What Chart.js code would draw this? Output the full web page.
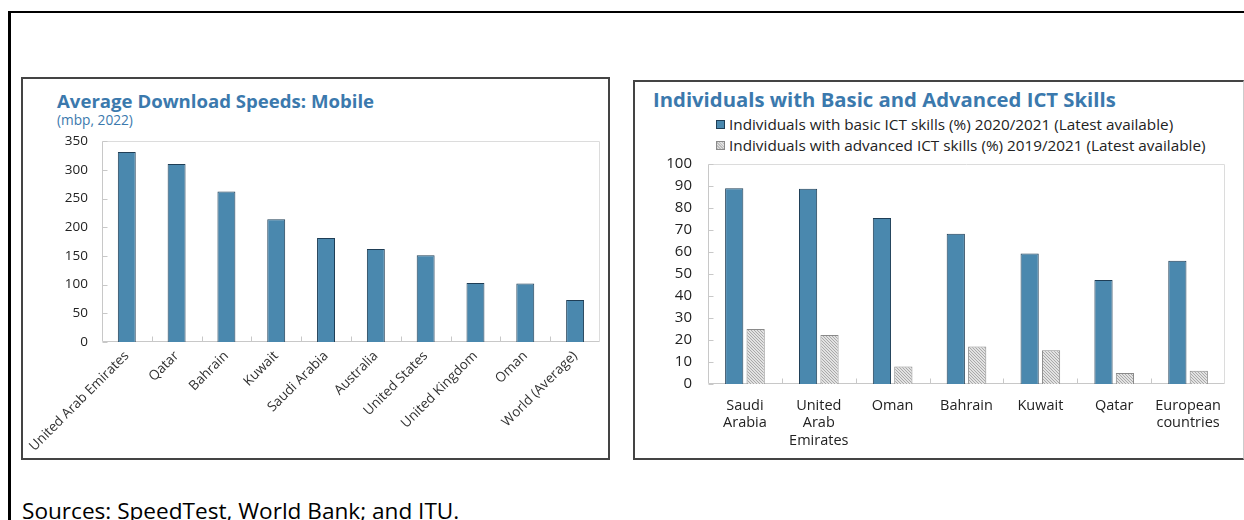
<!DOCTYPE html>
<html>
<head>
<meta charset="utf-8">
<script src="https://cdn.jsdelivr.net/npm/chart.js@4.4.0/dist/chart.umd.min.js"></script>
<style>
  html, body { margin: 0; padding: 0; background: #fff; width: 1244px; height: 520px; overflow: hidden;
    font-family: 'Open Sans', 'Noto Sans', sans-serif; }
  .frame { position: absolute; left: 8px; top: 11px; width: 1300px; height: 600px;
    border-top: 2px solid #000; border-left: 3px solid #000; box-sizing: border-box; }
  .panel { position: absolute; box-sizing: border-box; background: #fff; }
  #panelL { left: 21px; top: 77px; width: 589px; height: 383px; border: 2px solid #444; }
  #panelR { left: 633px; top: 80px; width: 611px; height: 380px; border: 2px solid #444; border-right: 1px solid #ccc; }
  .title { position: absolute; font-weight: 700; color: #3b79ad; line-height: 24px; white-space: nowrap; }
  .sub { position: absolute; color: #3b79ad; font-size: 13.7px; line-height: 16px; white-space: nowrap; }
  canvas { position: absolute; }
  .legend { position: absolute; left: 716px; top: 114px; font-size: 15.3px; color: #222; line-height: 21px; white-space: nowrap; }
  .legend div { display: flex; align-items: center; }
  .legend span.sw { display: inline-block; width: 9px; height: 9px; margin-right: 4px; box-sizing: border-box; }
  .footer { position: absolute; left: 22px; top: 497px; font-size: 22.6px; line-height: 28px; color: #000; white-space: nowrap; }
</style>
</head>
<body>
<div class="frame"></div>
<div class="panel" id="panelL"></div>
<div class="panel" id="panelR"></div>

<div class="title" style="left:57px; top:89px; font-size:18.6px;">Average Download Speeds: Mobile</div>
<div class="sub" style="left:57px; top:112px;">(mbp, 2022)</div>
<div class="title" style="left:653px; top:87px; font-size:20.3px;">Individuals with Basic and Advanced ICT Skills</div>
<div class="legend" id="legendR"></div>

<canvas id="speedChart" width="586" height="338" style="left:22px; top:119px;"></canvas>
<canvas id="skillsChart" width="606" height="318" style="left:635px; top:139px;"></canvas>

<div class="footer">Sources: SpeedTest, World Bank; and ITU.</div>

<script>
// Mobile download speeds (mbp, 2022)
const speedCountries = ['United Arab Emirates', 'Qatar', 'Bahrain', 'Kuwait', 'Saudi Arabia',
  'Australia', 'United States', 'United Kingdom', 'Oman', 'World (Average)'];
const speedValues = [331, 310, 262, 214, 181, 162, 151, 103, 102, 73];
const speedAxis = { min: 0, max: 350, step: 50 };

// ICT skills (% of individuals)
const skillCountries = [['Saudi', 'Arabia'], ['United', 'Arab', 'Emirates'], ['Oman'], ['Bahrain'],
  ['Kuwait'], ['Qatar'], ['European', 'countries']];
const basicLabel = 'Individuals with basic ICT skills (%) 2020/2021 (Latest available)';
const advancedLabel = 'Individuals with advanced ICT skills (%) 2019/2021 (Latest available)';
const basicSkills = [89, 88.7, 75.5, 68.3, 59.3, 47.3, 56];
const advancedSkills = [25, 22.3, 8, 17, 15.3, 5, 6];
const skillsAxis = { min: 0, max: 100, step: 10 };

const BLUE = '#4a88ae';
const BLUE_EDGE = '#1f3e56';
const GREY_EDGE = '#8a8a8a';

Chart.defaults.font.family = "'Open Sans', 'Noto Sans', sans-serif";
Chart.defaults.color = '#222';

// stippled light-grey fill for the advanced-skills bars
function stipple() {
  const c = document.createElement('canvas');
  c.width = 3; c.height = 3;
  const g = c.getContext('2d');
  g.fillStyle = '#e2e2e2'; g.fillRect(0, 0, 3, 3);
  g.fillStyle = '#a9a9a9';
  g.fillRect(0, 0, 1, 1); g.fillRect(1, 1, 1, 1); g.fillRect(2, 2, 1, 1);
  return g.createPattern(c, 'repeat');
}
const GREY_FILL = stipple();

// light frame around the plot area with short inward tick marks
const plotFrame = {
  id: 'plotFrame',
  beforeDatasetsDraw(chart) {
    const { ctx, chartArea: a, scales: { x, y } } = chart;
    const L = Math.round(a.left) + 0.5, R = Math.round(a.right) - 0.5;
    const T = Math.round(a.top) + 0.5, B = Math.round(a.bottom) - 0.5;
    ctx.save();
    ctx.lineWidth = 1;
    ctx.strokeStyle = '#dcdcdc';
    ctx.beginPath();
    ctx.moveTo(L, T); ctx.lineTo(R, T); ctx.lineTo(R, B);
    ctx.stroke();
    ctx.strokeStyle = '#c8c8c8';
    ctx.beginPath();
    ctx.moveTo(L, T); ctx.lineTo(L, B); ctx.lineTo(R, B);
    y.ticks.forEach((t, i) => {
      const py = Math.round(y.getPixelForTick(i)) + 0.5;
      ctx.moveTo(L, py); ctx.lineTo(L + 5, py);
    });
    for (let i = 1; i < x.ticks.length; i++) {
      const px = Math.round((x.getPixelForTick(i - 1) + x.getPixelForTick(i)) / 2) + 0.5;
      ctx.moveTo(px, B); ctx.lineTo(px, B - 5);
    }
    ctx.stroke();
    ctx.restore();
  }
};

function fixedSize(w) { return s => { s.width = w; }; }
function fixedHeight(h) { return s => { s.height = h; }; }

new Chart(document.getElementById('speedChart'), {
  type: 'bar',
  data: {
    labels: speedCountries,
    datasets: [{
      data: speedValues,
      backgroundColor: BLUE,
      borderColor: BLUE_EDGE,
      borderWidth: 1,
      categoryPercentage: 0.36,
      barPercentage: 1
    }]
  },
  options: {
    responsive: false,
    animation: false,
    layout: { padding: { top: 7, right: 8, left: 0, bottom: 0 } },
    plugins: { legend: { display: false }, tooltip: { enabled: false } },
    scales: {
      x: {
        grid: { display: false, drawTicks: false },
        border: { display: false },
        afterFit: fixedHeight(115),
        ticks: { minRotation: 45, maxRotation: 45, autoSkip: false, padding: 6,
          font: { size: 13.5 }, color: '#333' }
      },
      y: {
        min: speedAxis.min, max: speedAxis.max,
        grid: { display: false, drawTicks: false },
        border: { display: false },
        afterFit: fixedSize(77),
        ticks: { stepSize: speedAxis.step, padding: 14, font: { size: 13.5 }, color: '#222' }
      }
    }
  },
  plugins: [plotFrame]
});

const skills = new Chart(document.getElementById('skillsChart'), {
  type: 'bar',
  data: {
    labels: skillCountries,
    datasets: [{
      label: basicLabel,
      data: basicSkills,
      backgroundColor: BLUE,
      borderColor: BLUE_EDGE,
      borderWidth: 1,
      categoryPercentage: 0.58,
      barPercentage: 0.85
    }, {
      label: advancedLabel,
      data: advancedSkills,
      backgroundColor: GREY_FILL,
      borderColor: GREY_EDGE,
      borderWidth: 1,
      categoryPercentage: 0.58,
      barPercentage: 0.85
    }]
  },
  options: {
    responsive: false,
    animation: false,
    layout: { padding: { top: 7, right: 16, left: 0, bottom: 0 } },
    plugins: { legend: { display: false }, tooltip: { enabled: false } },
    scales: {
      x: {
        grid: { display: false, drawTicks: false },
        border: { display: false },
        afterFit: fixedHeight(73),
        ticks: { maxRotation: 0, autoSkip: false, padding: 13,
          font: { size: 14.5, lineHeight: 1.2 }, color: '#222' }
      },
      y: {
        min: skillsAxis.min, max: skillsAxis.max,
        grid: { display: false, drawTicks: false },
        border: { display: false },
        afterFit: fixedSize(73),
        ticks: { stepSize: skillsAxis.step, padding: 16, font: { size: 15 }, color: '#222' }
      }
    }
  },
  plugins: [plotFrame]
});

// legend rows built from the dataset styles
const legendBox = document.getElementById('legendR');
skills.data.datasets.forEach((ds, i) => {
  const row = document.createElement('div');
  const sw = document.createElement('span');
  sw.className = 'sw';
  sw.style.border = '1px solid ' + ds.borderColor;
  sw.style.background = i === 0 ? BLUE : 'repeating-linear-gradient(45deg,#bdbdbd 0 1px,#e2e2e2 1px 2px)';
  row.appendChild(sw);
  row.appendChild(document.createTextNode(ds.label));
  legendBox.appendChild(row);
});
</script>
</body>
</html>
